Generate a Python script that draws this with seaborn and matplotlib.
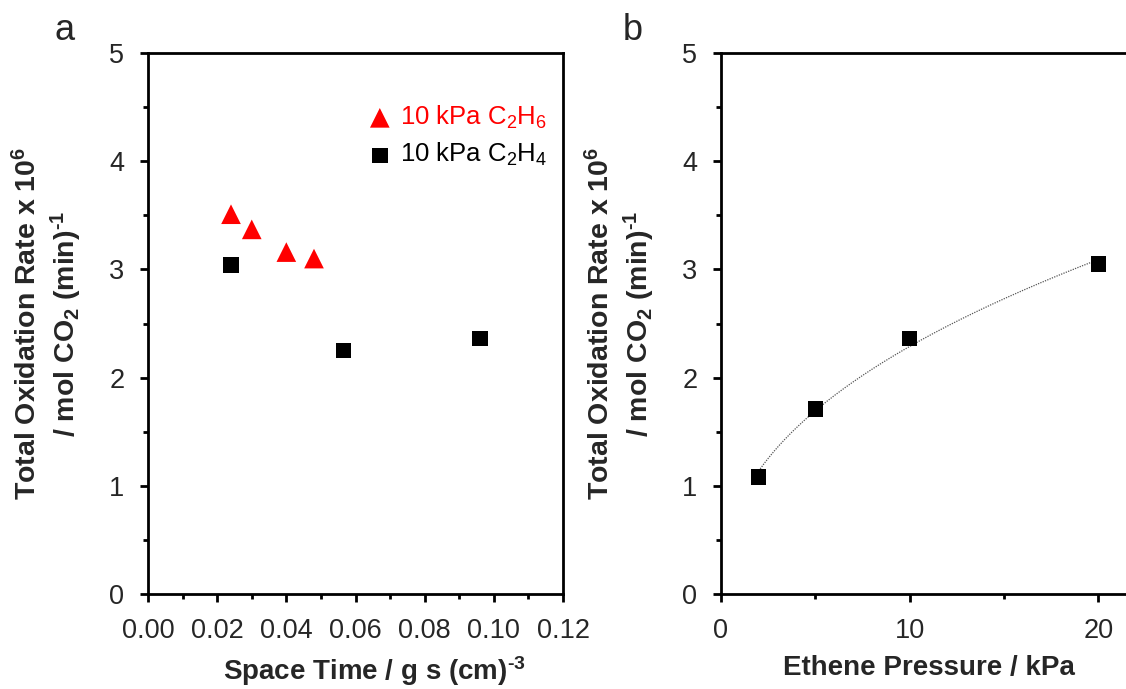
import numpy as np
import pandas as pd
import matplotlib
matplotlib.use("Agg")
import matplotlib.pyplot as plt
import seaborn as sns
from matplotlib.ticker import MultipleLocator, FormatStrFormatter

# Panel a: rate vs space time
ethane_space_time = [0.024, 0.030, 0.040, 0.048]
ethane_rate = [3.51, 3.37, 3.16, 3.10]
ethene_space_time = [0.024, 0.0565, 0.096]
ethene_rate = [3.04, 2.25, 2.36]

# Panel b: rate vs ethene pressure
ethene_pressure = [2, 5, 10, 20]
pressure_rate = [1.08, 1.71, 2.36, 3.05]

ethane_label = "10 kPa C$_2$H$_6$"
ethene_label = "10 kPa C$_2$H$_4$"
ylabel = ("Total Oxidation Rate x 10$^{\\mathbf{6}}$\n"
          "/ mol CO$_{\\mathbf{2}}$ (min)$^{\\mathbf{\u20101}}$")
xlabel_a = "Space Time / g s (cm)$^{\\mathbf{\u20103}}$"
xlabel_b = "Ethene Pressure / kPa"

sns.set_style("white")
plt.rcParams["font.family"] = ["Liberation Sans", "DejaVu Sans"]
plt.rcParams["mathtext.fontset"] = "custom"
plt.rcParams["mathtext.rm"] = "Liberation Sans"
plt.rcParams["mathtext.bf"] = "Liberation Sans:bold"
plt.rcParams["mathtext.it"] = "Liberation Sans:italic"

fig = plt.figure(figsize=(11.26, 6.89), dpi=100)
ax_a = fig.add_axes([148 / 1126, 95 / 689, 415 / 1126, 541 / 689])
ax_b = fig.add_axes([721 / 1126, 95 / 689, 415 / 1126, 541 / 689])

sns.scatterplot(x=ethane_space_time, y=ethane_rate, ax=ax_a, marker="^", s=200,
                color="#ff0000", edgecolor="none", label=ethane_label, zorder=3)
sns.scatterplot(x=ethene_space_time, y=ethene_rate, ax=ax_a, marker="s", s=125,
                color="black", edgecolor="none", label=ethene_label, zorder=3)

# power-law trend y = a * x**b, least squares on the rates themselves
px = np.asarray(ethene_pressure, float)
py = np.asarray(pressure_rate, float)
best = None
for b in np.linspace(0.2, 0.8, 601):
    xb = px ** b
    a = np.sum(py * xb) / np.sum(xb * xb)
    err = np.sum((py - a * xb) ** 2)
    if best is None or err < best[0]:
        best = (err, a, b)
_, a_fit, b_fit = best
xf = np.linspace(px.min(), px.max(), 200)
fit = pd.DataFrame({"p": xf, "r": a_fit * xf ** b_fit})
sns.lineplot(data=fit, x="p", y="r", ax=ax_b, color="#555555", lw=0.9,
             linestyle=(0, (1, 1)), zorder=2)
sns.scatterplot(x=ethene_pressure, y=pressure_rate, ax=ax_b, marker="s", s=125,
                color="black", edgecolor="none", zorder=3)

ax_a.set_xlim(0, 0.12)
ax_a.xaxis.set_major_locator(MultipleLocator(0.02))
ax_a.xaxis.set_minor_locator(MultipleLocator(0.01))
ax_a.xaxis.set_major_formatter(FormatStrFormatter("%.2f"))
ax_b.set_xlim(0, 22)
ax_b.xaxis.set_major_locator(MultipleLocator(10))
ax_b.xaxis.set_minor_locator(MultipleLocator(5))

for ax in (ax_a, ax_b):
    ax.set_ylim(0, 5)
    ax.yaxis.set_major_locator(MultipleLocator(1))
    ax.yaxis.set_minor_locator(MultipleLocator(0.5))
    for sp in ax.spines.values():
        sp.set_visible(True)
        sp.set_linewidth(2.0)
        sp.set_color("black")
    ax.tick_params(which="major", direction="out", length=6, width=2,
                   labelsize=19.5, color="black", pad=11,
                   bottom=True, left=True, top=False, right=False)
    ax.tick_params(which="minor", direction="out", length=3.5, width=2,
                   color="black", bottom=True, left=True, top=False, right=False)
    ax.set_ylabel(ylabel, fontsize=20.5, fontweight="bold", linespacing=1.25)
    ax.yaxis.set_label_coords(-0.155, 0.5)

ax_a.set_xlabel(xlabel_a, fontsize=20, fontweight="bold", labelpad=8)
ax_b.set_xlabel(xlabel_b, fontsize=20, fontweight="bold", labelpad=8)
ax_a.xaxis.set_label_coords(0.545, -0.112)
ax_b.xaxis.set_label_coords(0.5, -0.112)

leg = ax_a.legend(loc="upper right", bbox_to_anchor=(1.0, 0.935), frameon=False,
                  fontsize=18.5, handletextpad=0.2, labelspacing=0.4,
                  handlelength=1.2, borderaxespad=0.2)
for txt, col in zip(leg.get_texts(), ["#ff0000", "black"]):
    txt.set_color(col)

fig.text(65 / 1126, 1 - 30 / 689, "a", fontsize=26, ha="center", va="center")
fig.text(633 / 1126, 1 - 30 / 689, "b", fontsize=26, ha="center", va="center")

fig.savefig("out.png", dpi=100)
